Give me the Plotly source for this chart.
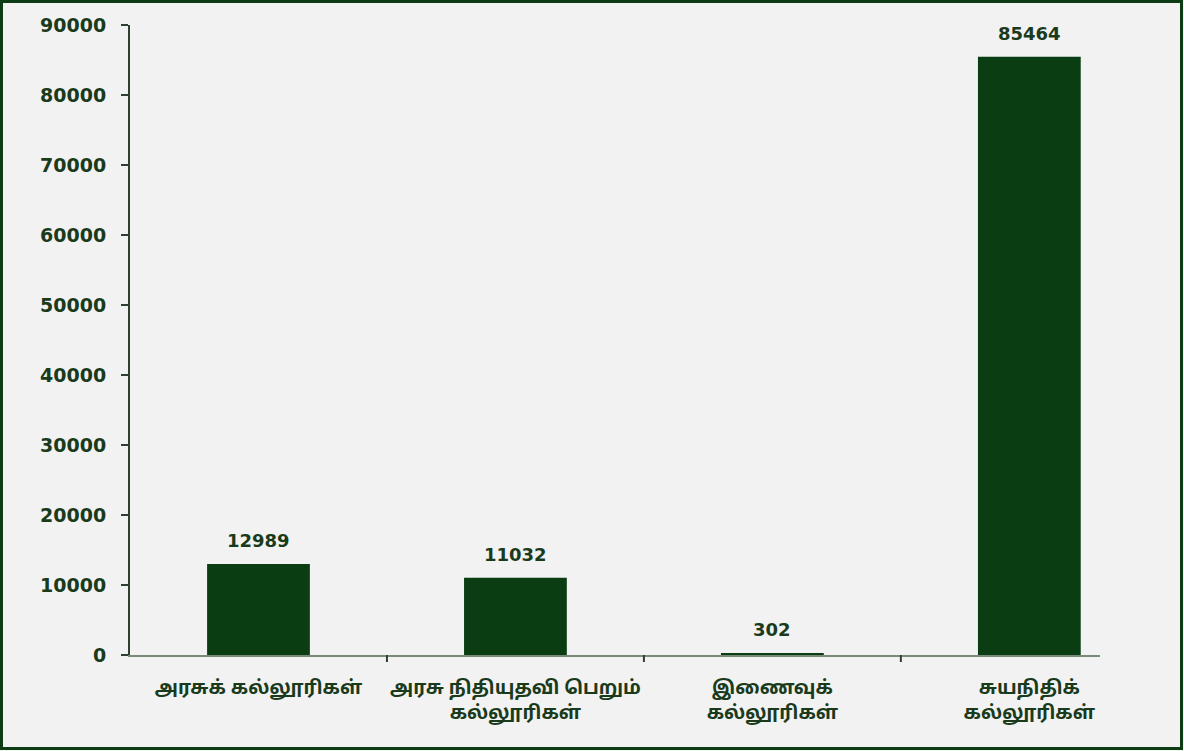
import plotly.graph_objects as go

categories = ["அரசுக் கல்லூரிகள்", "அரசு நிதியுதவி பெறும்<br>கல்லூரிகள்",
              "இணைவுக்<br>கல்லூரிகள்", "சுயநிதிக்<br>கல்லூரிகள்"]
values = [12989, 11032, 302, 85464]
y_ticks = [0, 10000, 20000, 30000, 40000, 50000, 60000, 70000, 80000, 90000]

W, H = 1184, 751
L, R, T, B = 130, 84, 25, 96
pw, ph = W - L - R, H - T - B

bar_color = "#0b3d12"
text_color = "#1a3a1c"
border_color = "#0d3b14"

fig = go.Figure()
fig.add_trace(go.Bar(x=list(range(len(values))), y=values, marker_color=bar_color,
                     marker_line_width=0, width=0.4, showlegend=False, hoverinfo="skip"))

for i, v in enumerate(values):
    fig.add_annotation(x=i, y=v, text="<b>%d</b>" % v, showarrow=False, yanchor="bottom", yshift=11,
                       font=dict(family="DejaVu Sans", size=18, color=text_color))

def px_x(p):
    return (p - L) / pw

def px_y(p):
    return (H - B - p) / ph

fig.add_shape(type="rect", xref="paper", yref="paper",
              x0=px_x(1.5), x1=px_x(W - 2.5), y0=px_y(H - 2.5), y1=px_y(1.5),
              line=dict(color=border_color, width=3), layer="above")

fig.update_layout(
    width=W, height=H,
    margin=dict(l=L, r=R, t=T, b=B, pad=0),
    paper_bgcolor="#f2f2f2", plot_bgcolor="#f2f2f2",
    xaxis=dict(
        range=[-0.5, 3.275], tickmode="array", tickvals=list(range(len(categories))),
        ticktext=["<b>" + c + "</b>" for c in categories],
        showline=True, linecolor="#7a8a7a", linewidth=2,
        ticks="", showgrid=False, zeroline=False, ticklabelstandoff=14,
        tickfont=dict(family="Noto Sans Tamil, Noto Sans, Liberation Sans", size=19, color=text_color),
    ),
    yaxis=dict(
        range=[0, 90000], tickmode="array", tickvals=y_ticks,
        ticktext=["<b>%d</b>" % t for t in y_ticks],
        showline=True, linecolor="#2f3f30", linewidth=2,
        ticks="outside", ticklen=7, tickcolor="#2f3f30", tickwidth=2,
        showgrid=False, zeroline=False, ticklabelstandoff=11,
        tickfont=dict(family="DejaVu Sans", size=19, color=text_color),
    ),
)

# category boundary tick marks on the x axis
for b in [0.5, 1.5, 2.5]:
    fig.add_shape(type="line", xref="x", yref="paper", x0=b, x1=b, y0=0, y1=px_y(H - B + 7),
                  line=dict(color="#2f3f30", width=2))

fig.write_html("out.html", config={"displayModeBar": False},
               post_script="document.body.style.margin='0';")
